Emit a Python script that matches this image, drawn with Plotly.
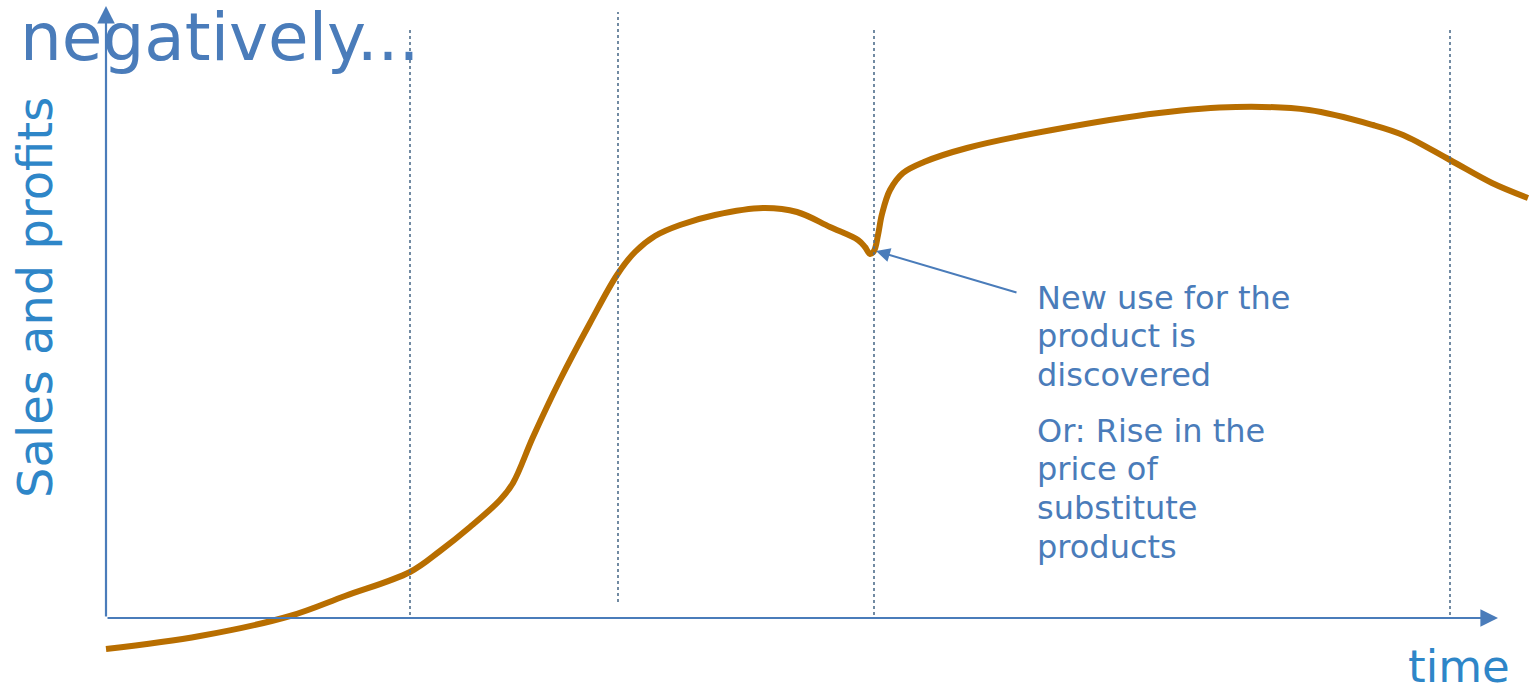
import plotly.graph_objects as go

# Sales curve over time (x: time units from origin, y: sales units above the time axis)
time_vals = [0, 94, 184, 239, 304, 334, 364, 394, 407, 427, 454, 484, 511, 529, 549, 574, 609, 657, 691,
             724, 752, 759, 764, 768, 772, 776, 784, 797, 818, 861, 946, 1053, 1130, 1203, 1267, 1297, 1344, 1386, 1422]
sales_vals = [-31, -18, 2, 22, 46, 67, 91, 118, 135, 181, 238, 295, 343, 366, 382, 393, 403, 410, 406,
              391, 378, 371, 364, 367, 383, 404, 428, 445, 456, 470, 488, 505, 511, 508, 493, 483, 458, 435, 420]

# Stage boundaries (dotted vertical lines): x, y_bottom, y_top
stage_x = [304, 512, 768, 1344]
stage_bottom = [3, 16, 3, 3]
stage_top = [590, 606, 590, 590]

title_text = "negatively..."
y_title = "Sales and profits"
x_title = "time"
note_lines_1 = ["New use for the", "product is", "discovered"]
note_lines_2 = ["Or: Rise in the", "price of", "substitute", "products"]

AXIS_COL = "#4A7CBA"
TEXT_COL = "#4A7CBA"
TITLE_COL = "#2E86C8"
CURVE_COL = "#B86E00"
DOT_COL = "#4F6E8C"
FONT = "DejaVu Sans"

fig = go.Figure()
fig.add_trace(go.Scatter(x=time_vals, y=sales_vals, mode="lines",
                         line=dict(color=CURVE_COL, width=6, shape="spline", smoothing=1.0),
                         hoverinfo="skip", showlegend=False))

shapes = []
for x, y0, y1 in zip(stage_x, stage_bottom, stage_top):
    shapes.append(dict(type="line", xref="x", yref="y", x0=x, x1=x, y0=y0, y1=y1,
                       line=dict(color=DOT_COL, width=1.6, dash="dot")))

annotations = []
# axes with arrows
annotations.append(dict(x=0, y=612, ax=0, ay=0, xref="x", yref="y", axref="x", ayref="y",
                        showarrow=True, arrowhead=2, arrowsize=1.6, arrowwidth=2.2, arrowcolor=AXIS_COL, text=""))
annotations.append(dict(x=1392, y=0, ax=0, ay=0, xref="x", yref="y", axref="x", ayref="y",
                        showarrow=True, arrowhead=2, arrowsize=1.6, arrowwidth=2.2, arrowcolor=AXIS_COL, text=""))
# pointer to dip
annotations.append(dict(x=770, y=367, ax=912, ay=325, xref="x", yref="y", axref="x", ayref="y",
                        showarrow=True, arrowhead=2, arrowsize=1.4, arrowwidth=2, arrowcolor=AXIS_COL, text=""))

# title
annotations.append(dict(x=-88, y=581, xref="x", yref="y", text=title_text, showarrow=False,
                        xanchor="left", yanchor="middle", font=dict(family=FONT, size=66, color=TEXT_COL)))
# axis titles
annotations.append(dict(x=-71, y=320, xref="x", yref="y", text=y_title, showarrow=False, textangle=-90,
                        xanchor="center", yanchor="middle", font=dict(family=FONT, size=48, color=TITLE_COL)))
annotations.append(dict(x=1353, y=-48, xref="x", yref="y", text=x_title, showarrow=False,
                        xanchor="center", yanchor="middle", font=dict(family=FONT, size=45, color=TITLE_COL)))

# note text
y_pos1 = [320, 282, 243]
y_pos2 = [187, 149, 110, 71]
for t, yy in zip(note_lines_1 + note_lines_2, y_pos1 + y_pos2):
    annotations.append(dict(x=929, y=yy, xref="x", yref="y", text=t, showarrow=False,
                            xanchor="left", yanchor="middle", font=dict(family=FONT, size=32, color=TEXT_COL)))

fig.update_layout(
    width=1531, height=694, margin=dict(l=0, r=0, t=0, b=0),
    paper_bgcolor="white", plot_bgcolor="white",
    xaxis=dict(range=[-106, 1425], visible=False, fixedrange=True),
    yaxis=dict(range=[-76, 618], visible=False, fixedrange=True),
    shapes=shapes, annotations=annotations, showlegend=False,
)
fig.write_html("out.html")
